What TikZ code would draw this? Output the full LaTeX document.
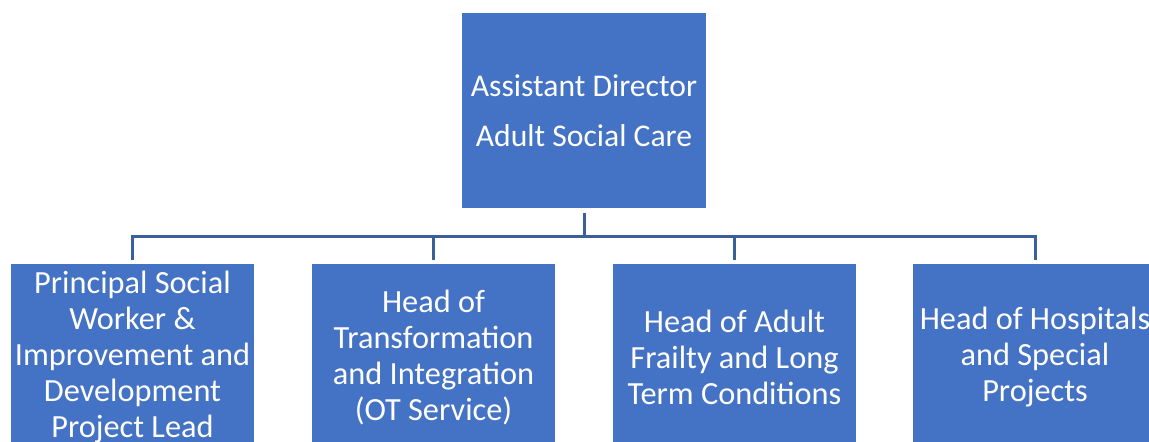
\documentclass[tikz,border=0pt]{standalone}
\usepackage{fontspec}
\setmainfont{Carlito}
\usetikzlibrary{positioning}

\definecolor{boxblue}{HTML}{4472C4}
\definecolor{linkblue}{HTML}{3A5E9E}

\begin{document}
\begin{tikzpicture}[x=0.02cm, y=0.02cm,
  post/.style={fill=boxblue, draw=white, line width=0.6pt, text=white,
    minimum width=245*0.02cm, minimum height=197*0.02cm, align=center,
    inner sep=0pt},
  toptext/.style={font=\fontsize{18}{28.4}\selectfont},
  subtext/.style={font=\fontsize{18.4}{20.5}\selectfont,
    minimum height=189*0.02cm},
  link/.style={draw=linkblue, line width=1.7pt, line join=miter,
    shorten <=0.06cm, shorten >=0.04cm}]
\useasboundingbox (0,0) rectangle (1149,441);
% Nodes
\node[post, toptext, minimum width=246*0.02cm] (director) at (584,330.5)
  {Assistant Director\\Adult Social Care};
\node[post, subtext] (psw) at (132.5,83.5)
  {Principal Social\\Worker \&\\Improvement and\\Development\\Project Lead};
\node[post, subtext] (transform) at (433.5,83.5)
  {Head of\\Transformation\\and Integration\\(OT Service)};
\node[post, subtext] (frailty) at (734.5,83.5)
  {Head of Adult\\Frailty and Long\\Term Conditions};
\node[post, subtext] (hospitals) at (1035,83.5)
  {Head of Hospitals\\and Special\\Projects};
% Lines
\foreach \n in {psw,transform,frailty,hospitals}
  \draw[link] (director.south) -- ++(0,-27) -| (\n.north);
\end{tikzpicture}
\end{document}
